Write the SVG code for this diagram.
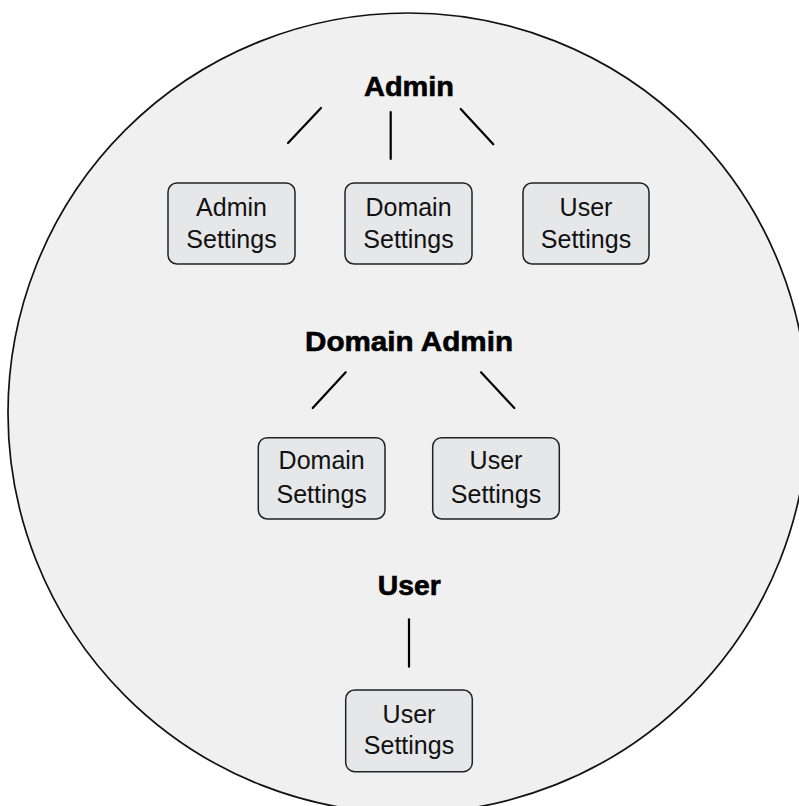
<svg xmlns="http://www.w3.org/2000/svg" width="799" height="806" viewBox="0 0 799 806">
<style>
.bg{fill:#f0f0f0;stroke:#111;stroke-width:1.7}
.box{fill:#e6e7e8;stroke:#222;stroke-width:1.5}
.lbl{font-family:"Liberation Sans",Arial,sans-serif;font-size:25px;fill:#111;text-anchor:middle}
.ttl{font-family:"Liberation Sans",Arial,sans-serif;font-size:28px;font-weight:bold;fill:#000;text-anchor:middle;stroke:#000;stroke-width:0.6}
.ln{stroke:#000;stroke-width:2.2;stroke-linecap:round;fill:none}
</style>
<rect width="799" height="806" fill="#fff"/>
<circle class="bg" cx="408" cy="413" r="400"/>
<g id="connectors">
<line class="ln" x1="321" y1="108" x2="288" y2="143"/>
<line class="ln" x1="390.7" y1="112" x2="390.7" y2="159"/>
<line class="ln" x1="460.7" y1="109" x2="493.3" y2="144.3"/>
<line class="ln" x1="345.7" y1="372.3" x2="312.7" y2="408"/>
<line class="ln" x1="481" y1="372.3" x2="514.3" y2="408"/>
<line class="ln" x1="409" y1="619.3" x2="409" y2="666.7"/>
</g>
<g id="admin"><text class="ttl" x="409" y="96" textLength="90" lengthAdjust="spacingAndGlyphs">Admin</text></g>
<g id="domain-admin"><text class="ttl" x="409" y="351" textLength="208" lengthAdjust="spacingAndGlyphs">Domain Admin</text></g>
<g id="user"><text class="ttl" x="409.3" y="595" textLength="63" lengthAdjust="spacingAndGlyphs">User</text></g>
<g id="admin-settings"><rect class="box" x="168" y="183" width="127" height="81" rx="9"/><text class="lbl" x="231.5" y="216">Admin</text><text class="lbl" x="231.5" y="248">Settings</text></g>
<g id="admin-domain-settings"><rect class="box" x="345" y="183" width="127" height="81" rx="9"/><text class="lbl" x="408.5" y="216">Domain</text><text class="lbl" x="408.5" y="248">Settings</text></g>
<g id="admin-user-settings"><rect class="box" x="523" y="183" width="126" height="81" rx="9"/><text class="lbl" x="586" y="216">User</text><text class="lbl" x="586" y="248">Settings</text></g>
<g id="da-domain-settings"><rect class="box" x="258.3" y="437.7" width="126.7" height="81.3" rx="9"/><text class="lbl" x="321.7" y="469.3">Domain</text><text class="lbl" x="321.7" y="503.3">Settings</text></g>
<g id="da-user-settings"><rect class="box" x="432.7" y="437.7" width="126.6" height="81.3" rx="9"/><text class="lbl" x="496" y="469.3">User</text><text class="lbl" x="496" y="503.3">Settings</text></g>
<g id="user-user-settings"><rect class="box" x="345.7" y="690" width="126.6" height="81.7" rx="9"/><text class="lbl" x="409" y="723.3">User</text><text class="lbl" x="409" y="754">Settings</text></g>
</svg>
